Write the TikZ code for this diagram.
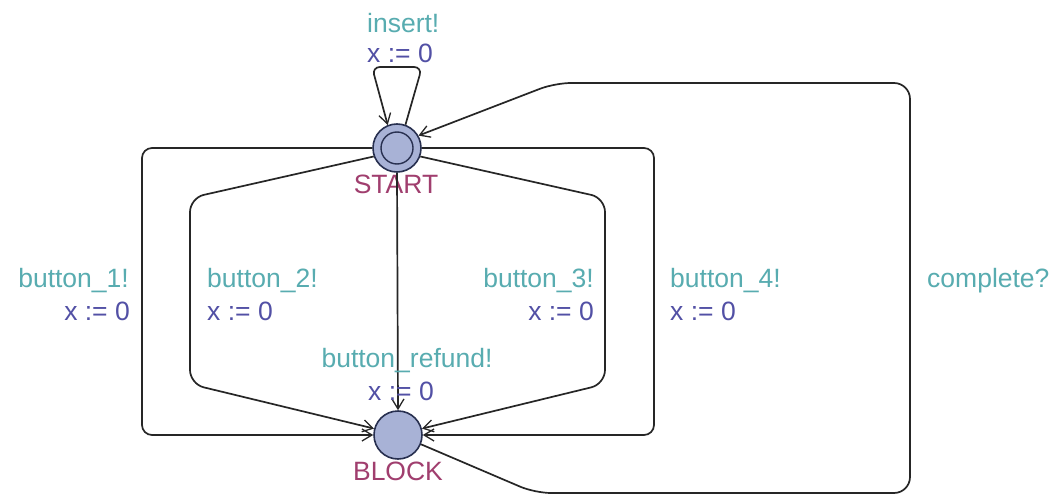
\documentclass[tikz,border=0pt]{standalone}
\usepackage{fontspec}
\setmainfont{Liberation Sans}
\usetikzlibrary{arrows.meta}
\definecolor{synccol}{RGB}{88,172,176}
\definecolor{updcol}{RGB}{82,80,165}
\definecolor{loccol}{RGB}{160,62,110}
\definecolor{statefill}{RGB}{168,178,214}
\definecolor{stateline}{RGB}{40,48,80}
\tikzset{
  state/.style={circle,draw=stateline,fill=statefill,line width=1.6pt,minimum size=48pt,inner sep=0pt},
  edge/.style={draw=black!85,line width=1.7pt,rounded corners=10pt,-{Straight Barb[length=10pt,width=12pt,line width=1.3pt]}},
  lbl/.style={font=\fontsize{26.5}{30}\selectfont,inner sep=0pt},
  sync/.style={lbl,text=synccol},
  upd/.style={lbl,text=updcol},
  locname/.style={lbl,text=loccol},
}
\begin{document}
\begin{tikzpicture}[x=1pt,y=-1pt]
\useasboundingbox (0,0) rectangle (1060,500);
\fill[white] (0,0) rectangle (1060,500);
% states
\node[state] (start) at (397,148) {};
\draw[stateline,line width=1.4pt] (start.center) circle[radius=16pt];
\node[state] (block) at (398,435) {};
\node[locname,anchor=base] (startlbl) at (396,193) {START};
\node[locname,anchor=base] (blocklbl) at (398,480) {BLOCK};
% self loop
\draw[edge,rounded corners=8pt] (start.70) -- (422,67) -- (372,67) -- (start.112);
\node[sync,anchor=base west] (l0s) at (367,33) {insert!};
\node[upd,anchor=base west] (l0u) at (367,63) {x := 0};
% button_1
\draw[edge] (start.west) -- (142,148) -- (142,435) -- (block.west);
\node[sync,anchor=base east] (l1s) at (129,287) {button\_1!};
\node[upd,anchor=base east] (l1u) at (130,320) {x := 0};
% button_2
\draw[edge,rounded corners=14pt] (start.200) -- (190,198) -- (190,384) -- (block.165);
\node[sync,anchor=base west] (l2s) at (207,287) {button\_2!};
\node[upd,anchor=base west] (l2u) at (207,320) {x := 0};
% refund
\draw[edge] (start.south) -- (block.north);
\node[sync,anchor=base] (lrs) at (407,367) {button\_refund!};
\node[upd,anchor=base] (lru) at (401,400) {x := 0};
% button_3
\draw[edge,rounded corners=14pt] (start.340) -- (605,198) -- (605,384) -- (block.15);
\node[sync,anchor=base east] (l3s) at (594,287) {button\_3!};
\node[upd,anchor=base east] (l3u) at (594,320) {x := 0};
% button_4
\draw[edge] (start.east) -- (654,148) -- (654,435) -- (block.east);
\node[sync,anchor=base west] (l4s) at (670,287) {button\_4!};
\node[upd,anchor=base west] (l4u) at (670,320) {x := 0};
% complete
\draw[edge,rounded corners=16pt] (block.-22) -- (535,493) -- (910,493) -- (910,83) -- (555,83) -- (start.30);
\node[sync,anchor=base west] (lcs) at (927,287) {complete?};
\end{tikzpicture}
\end{document}
